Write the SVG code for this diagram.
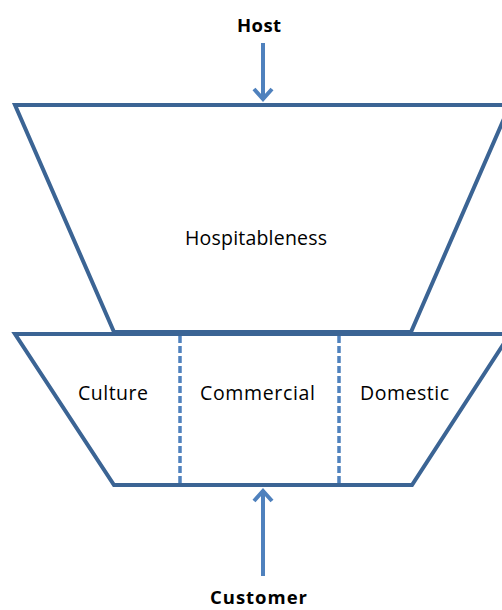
<svg xmlns="http://www.w3.org/2000/svg" width="502" height="610" viewBox="0 0 502 610">
<defs>
<style>
.outline{fill:#ffffff;stroke:#3B6494;stroke-width:4;stroke-linejoin:miter}
.divider{stroke:#4F81BD;stroke-width:3.5;stroke-dasharray:7 3;fill:none}
.arrow{stroke:#4F81BD;stroke-width:4;fill:none}
.head{stroke:#4F81BD;stroke-width:4;fill:none;stroke-linejoin:miter;stroke-linecap:butt}
.lbl{font-family:"Open Sans","Liberation Sans",Arial,sans-serif;font-size:19.5px;fill:#000;text-anchor:middle}
.bold{font-weight:bold;font-size:18.5px}
</style>
</defs>
<rect width="502" height="610" fill="#ffffff"/>
<g id="hospitableness">
<polygon class="outline" points="15,105 510,105 411,332 114,332"/>
<text class="lbl" x="256" y="245" textLength="142" lengthAdjust="spacing">Hospitableness</text>
</g>
<g id="types">
<polygon class="outline" points="15,334 510,334 412,485 114,485"/>
<line class="divider" x1="180" y1="336" x2="180" y2="483"/>
<line class="divider" x1="339" y1="336" x2="339" y2="483"/>
<text class="lbl" x="113" y="400" textLength="70" lengthAdjust="spacing">Culture</text>
<text class="lbl" x="257.5" y="400" textLength="115" lengthAdjust="spacing">Commercial</text>
<text class="lbl" x="404.5" y="400" textLength="89" lengthAdjust="spacing">Domestic</text>
</g>
<g id="host">
<text class="lbl bold" x="259" y="32" textLength="44" lengthAdjust="spacing">Host</text>
</g>
<g id="customer">
<text class="lbl bold" x="258.5" y="604" textLength="97" lengthAdjust="spacing">Customer</text>
</g>
<g id="connectors">
<line class="arrow" x1="263" y1="43" x2="263" y2="100"/>
<polyline class="head" points="254,89 263,99 272,89"/>
<line class="arrow" x1="263" y1="576" x2="263" y2="490"/>
<polyline class="head" points="254,501 263,491 272,501"/>
</g>
</svg>
